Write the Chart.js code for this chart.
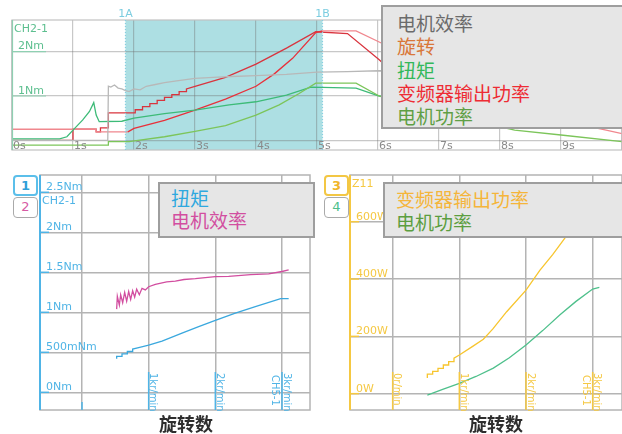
<!DOCTYPE html>
<html>
<head>
<meta charset="utf-8">
<script src="https://cdn.jsdelivr.net/npm/chart.js"></script>
<style>
  body { margin: 0; width: 622px; height: 434px; position: relative; overflow: hidden; background: #fff;
         font-family: "Noto Sans CJK SC", sans-serif; }
  canvas { position: absolute; }
  .legend { position: absolute; background: #e6e6e6; border: 2px solid #9e9e9e; box-sizing: border-box;
            font-size: 19px; white-space: nowrap; }
  .badge { position: absolute; width: 25px; height: 21px; box-sizing: border-box; border-radius: 4px; background: #fff;
           text-align: center; font: 13px/18px "DejaVu Sans", sans-serif; }
  .axtitle { position: absolute; width: 100px; text-align: center; font-size: 18px; font-weight: bold; color: #2e2e2e; }
</style>
</head>
<body>
<canvas id="topChart" width="622" height="156" style="left:0;top:0"></canvas>
<canvas id="leftChart" width="320" height="250" style="left:0;top:165px"></canvas>
<canvas id="rightChart" width="302" height="250" style="left:320px;top:165px"></canvas>

<div class="legend" style="left:381px;top:5px;width:250px;height:124px;padding:4px 0 0 14px;line-height:23.3px">
  <div style="color:#6b6b6b">电机效率</div>
  <div style="color:#d9773a">旋转</div>
  <div style="color:#33b85a">扭矩</div>
  <div style="color:#ee2c34">变频器输出功率</div>
  <div style="color:#5f9f45">电机功率</div>
</div>
<div class="legend" style="left:158px;top:182px;width:157px;height:56px;padding:3px 0 0 11px;line-height:22px">
  <div style="color:#2fa8df">扭矩</div>
  <div style="color:#d24ea0">电机效率</div>
</div>
<div class="legend" style="left:383px;top:182px;width:245px;height:56px;padding:3px 0 0 11px;line-height:23px">
  <div style="color:#f5b53a">变频器输出功率</div>
  <div style="color:#5c9e40">电机功率</div>
</div>

<div class="badge" style="left:13px;top:175px;border:2px solid #5bbfea;color:#2f9fd8;font-weight:bold">1</div>
<div class="badge" style="left:13px;top:197px;border:1.5px solid #aaa;color:#d65aa4">2</div>
<div class="badge" style="left:324px;top:175px;border:2px solid #f3c744;color:#f0b52a;font-weight:bold">3</div>
<div class="badge" style="left:324px;top:197px;border:1.5px solid #aaa;color:#4dbf8b">4</div>

<div class="axtitle" style="left:136px;top:410px">旋转数</div>
<div class="axtitle" style="left:446px;top:410px">旋转数</div>

<script>
// ---- top: time trace (values on the Nm scale) ----
const secTicks = [0, 1, 2, 3, 4, 5, 6, 7, 8, 9, 10];
const secLabels = ['0s', '1s', '2s', '3s', '4s', '5s', '6s', '7s', '8s', '9s', ''];
const topNmTicks = [0, 1, 2];
const topNmLabels = ['', '1Nm', '2Nm'];
const cursorA = 1.86, cursorB = 5.09;

const effT = [0, 1.57, 1.58, 1.62, 1.68, 1.74, 1.8, 1.86, 1.92, 2.0, 2.1, 2.2, 2.35, 2.5, 2.7, 3.0, 3.3, 3.6, 4.0, 4.5, 5.0, 5.5, 6.0, 7.0, 8.0, 10];
const effV = [0, 0, 1.22, 1.2, 1.25, 1.18, 1.16, 1.12, 1.1, 1.16, 1.14, 1.22, 1.26, 1.3, 1.34, 1.4, 1.42, 1.44, 1.46, 1.49, 1.54, 1.55, 1.57, 1.56, 1.55, 1.55];

const rotT = [0, 1.0, 1.0, 1.38, 1.38, 1.45, 1.45, 1.58, 1.58, 1.92, 2.02, 2.02, 2.14, 2.14, 2.26, 2.26, 2.38, 2.38,
              2.5, 2.5, 2.62, 2.62, 2.74, 2.74, 2.86, 2.86, 3.0, 3.5, 4.0, 4.5, 4.98, 5.5, 6.02, 6.5, 7.0, 8.0, 10];
const rotV = [0, 0, 0.25, 0.25, 0.19, 0.19, 0.28, 0.28, 0.62, 0.62, 0.62, 0.69, 0.69, 0.76, 0.76, 0.83, 0.83, 0.9,
              0.9, 0.97, 0.97, 1.03, 1.03, 1.1, 1.1, 1.16, 1.22, 1.42, 1.72, 2.08, 2.45, 2.41, 1.82, 1.2, 0.6, 0.4, 0.4];

const invT = [0, 1.38, 1.38, 1.9, 2.0, 2.5, 3.0, 3.5, 4.0, 4.3, 4.6, 4.98, 5.09, 5.64, 6.02, 7, 8, 9, 9.74, 10];
const invV = [0.25, 0.25, 0.19, 0.19, 0.27, 0.45, 0.68, 0.93, 1.22, 1.5, 1.85, 2.43, 2.47, 2.47, 2.22, 1.55, 0.9, 0.45, 0.23, 0.15];

const torT = [0, 0.78, 0.9, 1.0, 1.16, 1.27, 1.34, 1.38, 1.43, 1.8, 2.0, 2.5, 3.0, 3.56, 4.0, 4.5, 4.9, 5.64, 6.02, 7, 10];
const torV = [0.03, 0.03, 0.08, 0.23, 0.46, 0.65, 0.85, 0.57, 0.42, 0.43, 0.5, 0.6, 0.68, 0.8, 0.87, 1.02, 1.2, 1.18, 1.0, 0.7, 0.5];

const mpT = [0, 1.58, 1.58, 1.92, 2.5, 3.0, 3.5, 4.0, 4.38, 4.7, 4.98, 5.64, 6.02, 7, 8.24, 9, 10];
const mpV = [-0.11, -0.11, -0.03, -0.03, 0.08, 0.2, 0.33, 0.57, 0.8, 1.05, 1.29, 1.29, 1.0, 0.62, 0.23, 0.12, -0.03];

// ---- bottom: against speed (kr/min) ----
const speedTicks = [0, 1, 2, 3];
const speedLabelsL = ['', '1kr/min', '2kr/min', '3kr/min'];
const speedLabelsR = ['0r/min', '1kr/min', '2kr/min', '3kr/min'];
const torqueTicks = [0, 0.5, 1, 1.5, 2, 2.5];
const torqueLabels = ['0Nm', '500mNm', '1Nm', '1.5Nm', '2Nm', '2.5Nm'];
const powerTicks = [0, 200, 400, 600];
const powerLabels = ['0W', '200W', '400W', '600W'];

const tqSpeed = [0.52, 0.52, 0.6, 0.6, 0.68, 0.68, 0.76, 0.76, 0.85, 1.0, 1.2, 1.5, 1.75, 2.0, 2.3, 2.6, 2.98, 3.1];
const tqVal = [0.42, 0.45, 0.45, 0.48, 0.48, 0.51, 0.51, 0.54, 0.56, 0.59, 0.64, 0.74, 0.82, 0.9, 0.99, 1.07, 1.17, 1.17];

const effSpeed = [0.52, 0.53, 0.56, 0.58, 0.61, 0.64, 0.67, 0.7, 0.73, 0.76, 0.79, 0.82, 0.86, 0.9, 0.95, 1.0, 1.1, 1.27, 1.4, 1.53, 1.7, 2.0, 2.2, 2.53, 2.8, 3.0, 3.1];
const effVal = [1.04, 1.2, 1.09, 1.22, 1.12, 1.25, 1.14, 1.26, 1.16, 1.27, 1.19, 1.29, 1.22, 1.3, 1.28, 1.32, 1.35, 1.38, 1.39, 1.41, 1.42, 1.445, 1.45, 1.47, 1.48, 1.51, 1.53];

const invSpeed = [0.52, 0.52, 0.6, 0.6, 0.68, 0.68, 0.76, 0.76, 0.84, 0.84, 0.92, 0.92, 1.0, 1.2, 1.36, 1.5, 1.71, 2.0, 2.21, 2.4, 2.58, 2.8, 3.1];
const invVal = [55, 68, 68, 78, 78, 88, 88, 100, 100, 112, 112, 124, 135, 165, 190, 225, 286, 361, 431, 485, 542, 610, 705];

const mpSpeed = [0.52, 0.75, 1.0, 1.25, 1.51, 1.75, 2.0, 2.25, 2.51, 2.75, 3.0, 3.1];
const mpVal = [-5, 15, 36, 60, 89, 125, 170, 220, 275, 322, 365, 371];

function pts(xs, ys) {
  return xs.map((x, i) => ({ x: x, y: ys[i] }));
}

function line(data, color, extra) {
  return Object.assign({ data: data, borderColor: color, borderWidth: 1.3, pointRadius: 0, fill: false, tension: 0 }, extra || {});
}

function axis(min, max, ticks, gridColor, gridWidth) {
  return {
    type: 'linear', min: min, max: max,
    afterBuildTicks: ax => { ax.ticks = ticks.map(v => ({ value: v })); },
    ticks: { display: false },
    grid: { color: gridColor, lineWidth: gridWidth, drawTicks: false },
    border: { display: false }
  };
}

function options(xAxis, yAxis, padding) {
  return {
    responsive: false, animation: false, events: [],
    layout: { padding: padding },
    plugins: { legend: { display: false }, tooltip: { enabled: false } },
    scales: { x: xAxis, y: yAxis }
  };
}

const topDecor = {
  id: 'topDecor',
  beforeDraw(chart) {
    const { ctx, chartArea: a, scales: { x } } = chart;
    const xa = x.getPixelForValue(cursorA), xb = x.getPixelForValue(cursorB);
    ctx.save();
    ctx.fillStyle = '#addfe3';
    ctx.fillRect(xa, a.top, xb - xa, a.bottom - a.top);
    ctx.restore();
  },
  afterDraw(chart) {
    const { ctx, chartArea: a, scales: { x, y } } = chart;
    const xa = x.getPixelForValue(cursorA), xb = x.getPixelForValue(cursorB);
    ctx.save();
    ctx.strokeStyle = '#c2c2c2';
    ctx.lineWidth = 1.2;
    ctx.strokeRect(a.left, a.top, a.right - a.left, a.bottom - a.top);
    ctx.strokeStyle = '#8fd0b2';
    ctx.beginPath(); ctx.moveTo(a.left + 0.5, a.top); ctx.lineTo(a.left + 0.5, a.bottom); ctx.stroke();
    // cursors
    ctx.strokeStyle = '#86cfe0';
    ctx.setLineDash([1, 2]);
    [xa, xb].forEach(px => { ctx.beginPath(); ctx.moveTo(px, a.top); ctx.lineTo(px, a.bottom); ctx.stroke(); });
    ctx.setLineDash([]);
    ctx.font = '11px "DejaVu Sans"';
    ctx.fillStyle = '#7ccde0';
    ctx.textAlign = 'center';
    ctx.fillText('1A', xa, 17);
    ctx.fillText('1B', xb, 17);
    // time labels
    ctx.textAlign = 'left';
    ctx.fillStyle = '#8a8a8a';
    secTicks.forEach((v, i) => ctx.fillText(secLabels[i], x.getPixelForValue(v) + 1, a.bottom - 1.5));
    // channel + level labels
    ctx.fillStyle = '#5dbf8f';
    ctx.fillText('CH2-1', a.left + 2, 32);
    topNmTicks.forEach((v, i) => {
      if (!topNmLabels[i]) return;
      const py = y.getPixelForValue(v);
      ctx.fillText(topNmLabels[i], a.left + 6, py - 2.5);
      ctx.strokeStyle = '#8fd0b2';
      ctx.beginPath(); ctx.moveTo(a.left, py); ctx.lineTo(a.left + 34, py); ctx.stroke();
    });
    ctx.restore();
  }
};

function panelDecor(name, color, yTicks, yLabels, xLabels, chLabel) {
  return {
    id: name,
    afterDraw(chart) {
      const { ctx, chartArea: a, scales: { x, y } } = chart;
      ctx.save();
      ctx.strokeStyle = '#b4b4b4';
      ctx.lineWidth = 1.5;
      ctx.strokeRect(a.left, a.top, a.right - a.left, a.bottom - a.top);
      ctx.strokeStyle = color;
      ctx.lineWidth = 2;
      ctx.beginPath(); ctx.moveTo(a.left, a.top); ctx.lineTo(a.left, a.bottom); ctx.stroke();
      ctx.lineWidth = 1.5;
      ctx.font = '11px "DejaVu Sans"';
      ctx.fillStyle = color;
      ctx.textAlign = 'left';
      yTicks.forEach((v, i) => {
        const py = y.getPixelForValue(v);
        ctx.beginPath(); ctx.moveTo(a.left, py); ctx.lineTo(a.left + 9, py); ctx.stroke();
        ctx.fillText(yLabels[i], a.left + 6, py - 2);
      });
      ctx.fillText(chLabel, a.left + 2, a.top + (name === 'left' ? 29 : 12));
      ctx.font = '10px "DejaVu Sans"';
      speedTicks.forEach((v, i) => {
        const px = x.getPixelForValue(v);
        ctx.beginPath(); ctx.moveTo(px, a.bottom - (xLabels[i] ? 38 : 8)); ctx.lineTo(px, a.bottom); ctx.stroke();
        if (xLabels[i]) {
          ctx.save(); ctx.translate(px + 1.5, a.bottom - 37); ctx.rotate(Math.PI / 2);
          ctx.fillText(xLabels[i], 0, 0); ctx.restore();
        }
      });
      const p3 = x.getPixelForValue(3);
      ctx.save(); ctx.translate(p3 - 10, a.bottom - 35); ctx.rotate(Math.PI / 2);
      ctx.fillText('CH5-1', 0, 0); ctx.restore();
      ctx.restore();
    }
  };
}

new Chart(document.getElementById('topChart'), {
  type: 'line',
  data: {
    datasets: [
      line(pts(effT, effV), '#b8b8b8'),
      line(pts(mpT, mpV), '#7cc55a'),
      line(pts(torT, torV), '#3dbb78'),
      line(pts(invT, invV), '#e8303a', {
        segment: { borderColor: c => (c.p1.parsed.x <= 1.95 || c.p0.parsed.x >= 5.0) ? '#f0878e' : '#e8303a' }
      }),
      line(pts(rotT, rotV), '#d9343e')
    ]
  },
  options: options(axis(0, 10, secTicks, 'rgba(110,110,110,0.38)', 1.2),
                   axis(-0.219, 2.716, topNmTicks, 'rgba(110,110,110,0.38)', 1.2),
                   { left: 12, top: 20, right: 0, bottom: 6 }),
  plugins: [topDecor]
});

new Chart(document.getElementById('leftChart'), {
  type: 'line',
  data: {
    datasets: [
      line(pts(effSpeed, effVal), '#d24ea0'),
      line(pts(tqSpeed, tqVal), '#3aa8de')
    ]
  },
  options: options(axis(-0.63, 3.42, speedTicks, '#b4b4b4', 1.5),
                   axis(-0.221, 2.716, torqueTicks, '#b4b4b4', 1.5),
                   { left: 40, top: 10, right: 10, bottom: 5 }),
  plugins: [panelDecor('left', '#4fb4e6', torqueTicks, torqueLabels, speedLabelsL, 'CH2-1')]
});

new Chart(document.getElementById('rightChart'), {
  type: 'line',
  data: {
    datasets: [
      line(pts(invSpeed, invVal), '#f7c52e'),
      line(pts(mpSpeed, mpVal), '#4fc08c')
    ]
  },
  options: options(axis(-0.64, 3.44, speedTicks, '#b4b4b4', 1.5),
                   axis(-57, 763, powerTicks, '#b4b4b4', 1.5),
                   { left: 30, top: 10, right: 0, bottom: 5 }),
  plugins: [panelDecor('right', '#f5c842', powerTicks, powerLabels, speedLabelsR, 'Z11')]
});
</script>
</body>
</html>
